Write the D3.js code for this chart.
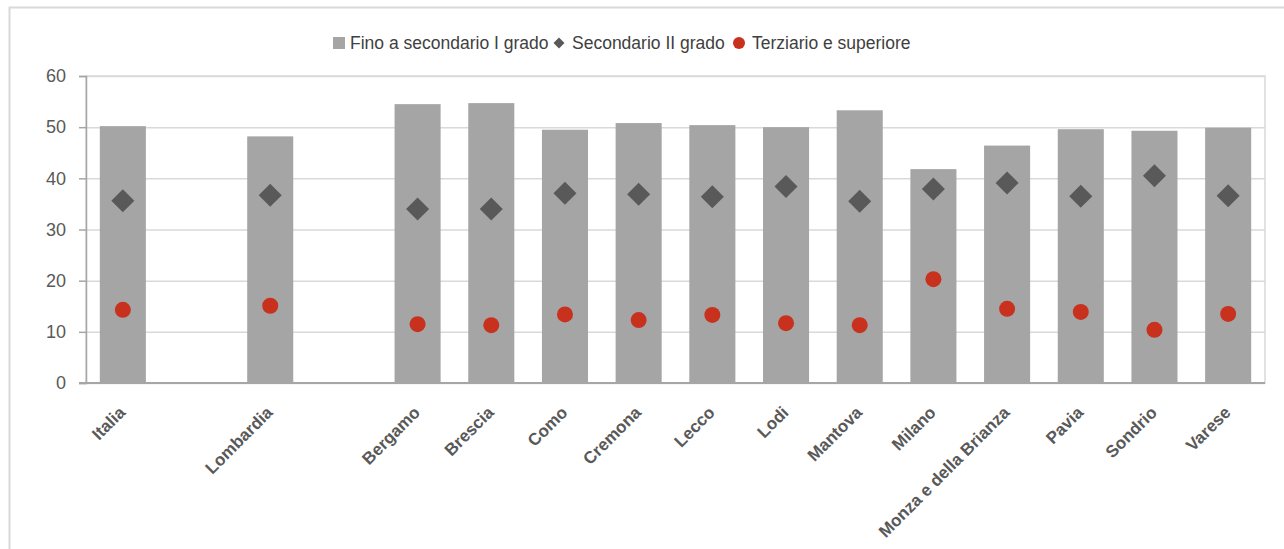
<!DOCTYPE html>
<html lang="it">
<head>
<meta charset="utf-8">
<script src="https://cdn.jsdelivr.net/npm/d3@7"></script>
<style>
  html, body { margin: 0; padding: 0; background: #fff; }
  svg { display: block; font-family: "Liberation Sans", Arial, sans-serif; }
</style>
</head>
<body>
<div id="chart"></div>
<script>
// Data
const categories = [
  "Italia", "Lombardia", "Bergamo", "Brescia", "Como", "Cremona", "Lecco",
  "Lodi", "Mantova", "Milano", "Monza e della Brianza", "Pavia", "Sondrio", "Varese",
];
// band slots, with empty gaps after Italia and Lombardia
const slots = [
  "Italia", "gap1", "Lombardia", "gap2", "Bergamo", "Brescia", "Como", "Cremona",
  "Lecco", "Lodi", "Mantova", "Milano", "Monza e della Brianza", "Pavia", "Sondrio", "Varese",
];
const finoSecondarioI = [50.2, 48.2, 54.5, 54.7, 49.5, 50.8, 50.4, 50.0, 53.3, 41.8, 46.4, 49.6, 49.3, 49.9];
const secondarioII = [35.6, 36.7, 34.0, 34.0, 37.1, 36.9, 36.4, 38.4, 35.5, 37.9, 39.1, 36.5, 40.5, 36.6];
const terziario = [14.3, 15.1, 11.5, 11.3, 13.4, 12.3, 13.3, 11.7, 11.3, 20.3, 14.5, 13.9, 10.4, 13.5];
const yTicks = [0, 10, 20, 30, 40, 50, 60];
const seriesNames = ["Fino a secondario I grado", "Secondario II grado", "Terziario e superiore"];

// Dimensions
const width = 1284;
const height = 549;
const plot = { left: 86, right: 1265, top: 76, bottom: 383 };

const barColor = "#a5a5a5";
const diamondColor = "#595959";
const dotColor = "#c9311f";
const textColor = "#595959";

const rows = categories.map((name, i) => ({
  name,
  fino: finoSecondarioI[i],
  secondario: secondarioII[i],
  terziario: terziario[i],
}));

function createChart() {
  const svg = d3
    .select("#chart")
    .append("svg")
    .attr("width", width)
    .attr("height", height);

  // outer chart frame (runs off the right/bottom edge)
  svg
    .append("rect")
    .attr("x", 9.5)
    .attr("y", 7.5)
    .attr("width", width + 20)
    .attr("height", height + 20)
    .attr("fill", "none")
    .attr("stroke", "#d9d9d9")
    .attr("stroke-width", 2);

  const xScale = d3
    .scaleBand()
    .domain(slots)
    .range([plot.left, plot.right])
    .paddingInner(0.375)
    .paddingOuter(0.1875);

  const yScale = d3
    .scaleLinear()
    .domain([0, 60])
    .range([plot.bottom, plot.top]);

  // plot area border
  svg
    .append("rect")
    .attr("x", plot.left)
    .attr("y", plot.top)
    .attr("width", plot.right - plot.left)
    .attr("height", plot.bottom - plot.top)
    .attr("fill", "none")
    .attr("stroke", "#d9d9d9")
    .attr("stroke-width", 1.5);

  // gridlines
  svg
    .append("g")
    .attr("class", "gridlines")
    .attr("transform", `translate(${plot.left}, 0)`)
    .call(d3.axisLeft(yScale).tickValues(yTicks).tickFormat("").tickSize(-(plot.right - plot.left)))
    .call((g) => g.select(".domain").remove())
    .selectAll("line")
    .attr("stroke", "#d9d9d9")
    .attr("stroke-width", 1.5);

  // bars
  svg
    .append("g")
    .selectAll("rect")
    .data(rows)
    .join("rect")
    .attr("x", (d) => xScale(d.name))
    .attr("y", (d) => yScale(d.fino))
    .attr("width", xScale.bandwidth())
    .attr("height", (d) => yScale(0) - yScale(d.fino))
    .attr("fill", barColor);

  // y axis
  const yAxis = svg
    .append("g")
    .attr("transform", `translate(${plot.left}, 0)`)
    .call(d3.axisLeft(yScale).tickValues(yTicks).tickSize(7).tickPadding(13));
  yAxis.select(".domain").attr("stroke", "#a6a6a6").attr("stroke-width", 1.5);
  yAxis.selectAll(".tick line").attr("stroke", "#a6a6a6").attr("stroke-width", 1.5);
  yAxis
    .selectAll(".tick text")
    .attr("fill", textColor)
    .attr("font-size", "18px")
    .attr("font-family", "'Liberation Sans', Arial, sans-serif");

  // x axis
  const xAxis = svg
    .append("g")
    .attr("transform", `translate(0, ${plot.bottom})`)
    .call(d3.axisBottom(xScale).tickSize(0).tickFormat((d) => (d.startsWith("gap") ? "" : d)));
  xAxis
    .select(".domain")
    .attr("d", `M${plot.left - 7},0H${plot.right}`)
    .attr("stroke", "#a6a6a6")
    .attr("stroke-width", 2);
  xAxis
    .selectAll(".tick text")
    .attr("fill", textColor)
    .attr("font-size", "17px")
    .attr("font-weight", "bold")
    .attr("font-family", "'Liberation Sans', Arial, sans-serif")
    .attr("text-anchor", "end")
    .attr("y", 0)
    .attr("dy", "0.71em")
    .attr("transform", "translate(-5, 22) rotate(-45)");

  // diamonds
  const diamond = d3.symbol().type(d3.symbolSquare).size(265);
  svg
    .append("g")
    .selectAll("path")
    .data(rows)
    .join("path")
    .attr("d", diamond)
    .attr("transform", (d) => `translate(${xScale(d.name) + xScale.bandwidth() / 2}, ${yScale(d.secondario)}) rotate(45)`)
    .attr("fill", diamondColor);

  // dots
  svg
    .append("g")
    .selectAll("circle")
    .data(rows)
    .join("circle")
    .attr("cx", (d) => xScale(d.name) + xScale.bandwidth() / 2)
    .attr("cy", (d) => yScale(d.terziario))
    .attr("r", 8)
    .attr("fill", dotColor);

  // legend
  const legend = svg.append("g").attr("class", "legend").attr("transform", "translate(0, 43)");
  const legendItems = [
    { x: 333, label: seriesNames[0], kind: "square" },
    { x: 553, label: seriesNames[1], kind: "diamond" },
    { x: 733, label: seriesNames[2], kind: "circle" },
  ];

  legendItems.forEach((item) => {
    const g = legend.append("g").attr("transform", `translate(${item.x}, 0)`);
    if (item.kind === "square") {
      g.append("rect").attr("x", 0).attr("y", -6).attr("width", 12).attr("height", 12).attr("fill", barColor);
    } else if (item.kind === "diamond") {
      g.append("path")
        .attr("d", d3.symbol().type(d3.symbolSquare).size(60))
        .attr("transform", "translate(6, 0) rotate(45)")
        .attr("fill", diamondColor);
    } else {
      g.append("circle").attr("cx", 6).attr("cy", 0).attr("r", 6).attr("fill", dotColor);
    }
    g.append("text")
      .attr("x", item.kind === "square" ? 17 : 19)
      .attr("y", 0)
      .attr("dy", "0.35em")
      .attr("font-size", "17.5px")
      .attr("fill", "#404040")
      .text(item.label);
  });
}

createChart();
</script>
</body>
</html>
